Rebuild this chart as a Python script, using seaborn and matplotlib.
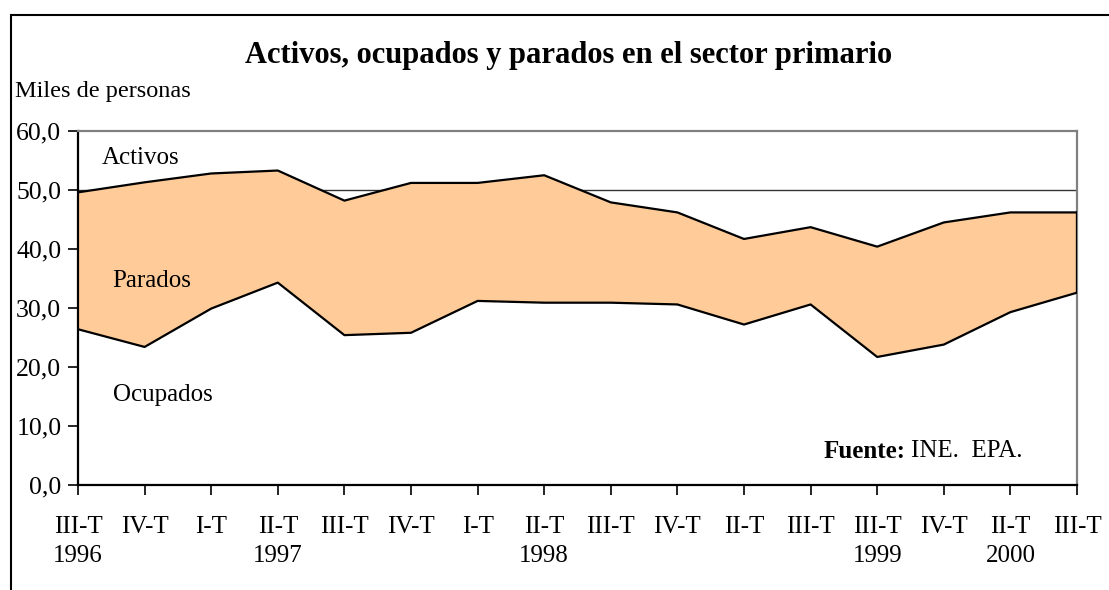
import matplotlib
matplotlib.use("Agg")
import matplotlib.pyplot as plt
import seaborn as sns
import pandas as pd
import numpy as np
from matplotlib.patches import Rectangle

quarters = ["III-T", "IV-T", "I-T", "II-T", "III-T", "IV-T", "I-T", "II-T",
            "III-T", "IV-T", "II-T", "III-T", "III-T", "IV-T", "II-T", "III-T"]
years = ["1996", "", "", "1997", "", "", "", "1998",
         "", "", "", "", "1999", "", "2000", ""]
activos = [49.6, 51.3, 52.8, 53.3, 48.2, 51.2, 51.2, 52.5,
           47.9, 46.2, 41.7, 43.7, 40.4, 44.5, 46.2, 46.2]
ocupados = [26.4, 23.4, 29.9, 34.3, 25.4, 25.8, 31.2, 30.9,
            30.9, 30.6, 27.2, 30.6, 21.7, 23.8, 29.3, 32.6]
yticks = [0, 10, 20, 30, 40, 50, 60]

sns.set_style("white")
plt.rcParams["font.family"] = ["Liberation Serif", "DejaVu Serif"]
plt.rcParams["text.color"] = "black"
plt.rcParams["xtick.color"] = "black"
plt.rcParams["ytick.color"] = "black"
plt.rcParams["xtick.labelcolor"] = "black"
plt.rcParams["ytick.labelcolor"] = "black"

df = pd.DataFrame({"pos": np.arange(len(activos)), "activos": activos, "ocupados": ocupados})

fig = plt.figure(figsize=(11.09, 5.90), dpi=100)
ax = fig.add_axes([78 / 1109, 105 / 590, (1077 - 78) / 1109, (485 - 131) / 590])

ax.axhline(50, color="#333333", lw=1.0, zorder=0)
ax.fill_between(df["pos"], df["ocupados"], df["activos"], color="#FFCC99", lw=0, zorder=1)
sns.lineplot(data=df, x="pos", y="activos", ax=ax, color="black", lw=1.6, zorder=3)
sns.lineplot(data=df, x="pos", y="ocupados", ax=ax, color="black", lw=1.6, zorder=3)
ax.plot([df["pos"].iloc[-1]] * 2, [df["ocupados"].iloc[-1], df["activos"].iloc[-1]],
        color="black", lw=1.6, zorder=3)

ax.set_xlim(0, len(activos) - 1)
ax.set_ylim(0, 60)
ax.set_xlabel("")
ax.set_ylabel("")

labels = [q + ("\n" + y if y else "") for q, y in zip(quarters, years)]
ax.set_xticks(df["pos"])
ax.set_xticklabels(labels, fontsize=18, linespacing=1.45)
ax.set_yticks(yticks)
ax.set_yticklabels([f"{v:.1f}".replace(".", ",") for v in yticks], fontsize=18.5)
ax.tick_params(axis="x", direction="out", length=7, width=1.2, pad=15)
ax.tick_params(axis="y", direction="out", length=7, width=1.2, pad=5)
ax.tick_params(left=True, bottom=True)

for side in ["left", "bottom"]:
    ax.spines[side].set_color("black")
    ax.spines[side].set_linewidth(1.6)
for side in ["top", "right"]:
    ax.spines[side].set_color("#808080")
    ax.spines[side].set_linewidth(1.6)

ax.text(0.35, 55.4, "Activos", fontsize=18, ha="left", va="center")
ax.text(0.52, 34.6, "Parados", fontsize=18, ha="left", va="center")
ax.text(0.52, 15.2, "Ocupados", fontsize=18, ha="left", va="center")
ax.text(0.828, 0.095, "Fuente:", transform=ax.transAxes, fontsize=18,
        fontweight="bold", ha="right", va="center")
ax.text(0.834, 0.095, "INE.  EPA.", transform=ax.transAxes, fontsize=18,
        ha="left", va="center")

fig.text(569 / 1109, 1 - 56 / 590, "Activos, ocupados y parados en el sector primario",
         fontsize=22, fontweight="bold", ha="center", va="center")
fig.text(15 / 1109, 1 - 91 / 590, "Miles de personas", fontsize=17.5, ha="left", va="center")

fig.patches.append(Rectangle((11 / 1109, -0.1), 1.2, (590 - 15) / 590 + 0.1,
                             transform=fig.transFigure, fill=False,
                             edgecolor="black", lw=1.5))

fig.savefig("out.png", dpi=100)
